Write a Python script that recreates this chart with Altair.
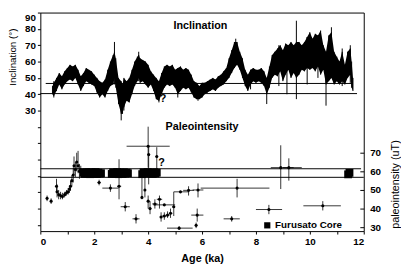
import altair as alt
import pandas as pd

# ---------------- data ----------------
incl_age = [0.45, 0.5, 0.6, 0.7, 0.8, 0.9, 1.0, 1.1, 1.2, 1.3,
            1.4, 1.5, 1.6, 1.7, 1.8, 1.9, 2.0, 2.1, 2.2, 2.3,
            2.4, 2.5, 2.6, 2.7, 2.75, 2.8, 2.9, 3.0, 3.05, 3.1,
            3.2, 3.3, 3.4, 3.5, 3.6, 3.65, 3.7, 3.8, 3.9, 4.0,
            4.1, 4.2, 4.3, 4.4, 4.5, 4.6, 4.7, 4.8, 4.9, 5.0,
            5.1, 5.2, 5.3, 5.4, 5.5, 5.6, 5.7, 5.8, 5.9, 6.0,
            6.1, 6.2, 6.3, 6.4, 6.5, 6.6, 6.7, 6.8, 6.9, 7.0,
            7.1, 7.2, 7.3, 7.4, 7.5, 7.6, 7.7, 7.8, 7.9, 8.0,
            8.1, 8.2, 8.3, 8.4, 8.5, 8.6, 8.7, 8.8, 8.9, 9.0,
            9.1, 9.2, 9.3, 9.4, 9.5, 9.6, 9.7, 9.8, 9.9, 10.0,
            10.1, 10.2, 10.3, 10.4, 10.5, 10.6, 10.7, 10.8, 10.9, 11.0,
            11.1, 11.2, 11.3, 11.4, 11.5, 11.55, 11.6]
incl_lo = [40, 39, 42, 46, 43, 46, 48, 49, 48, 50,
           46, 42, 45, 48, 47, 46, 45, 41, 38, 40,
           38, 42, 45, 46, 50, 44, 34, 28, 28, 32,
           36, 35, 40, 45, 48, 50, 47, 48, 46, 44,
           46, 42, 37, 36, 40, 44, 46, 45, 46, 44,
           40, 42, 44, 43, 44, 41, 38, 37, 37, 38,
           40, 41, 42, 43, 42, 44, 45, 46, 48, 50,
           53, 56, 58, 55, 50, 45, 42, 46, 48, 47,
           48, 47, 45, 40, 44, 50, 52, 51, 54, 48,
           52, 55, 50, 53, 50, 52, 55, 54, 56, 55,
           56, 54, 57, 52, 55, 46, 48, 50, 46, 48,
           46, 48, 46, 50, 52, 44, 42]
incl_hi = [45, 47, 50, 53, 51, 54, 56, 58, 57, 58,
           55, 51, 53, 56, 55, 54, 52, 50, 48, 47,
           49, 55, 60, 64, 66, 62, 50, 48, 46, 50,
           48, 50, 55, 60, 63, 64, 62, 61, 60, 58,
           54, 52, 50, 48, 53, 57, 58, 57, 58, 55,
           56, 57, 55, 56, 55, 52, 48, 47, 45, 47,
           47, 48, 49, 50, 49, 51, 52, 54, 56, 62,
           67, 72, 72, 66, 62, 55, 52, 55, 56, 55,
           55, 56, 54, 50, 57, 64, 66, 68, 70, 67,
           71, 70, 72, 70, 72, 72, 70, 72, 75, 78,
           74, 77, 76, 79, 70, 66, 76, 78, 66, 63,
           60, 66, 58, 66, 68, 60, 50]

# thin excursions of the inclination record
spike_age = [0.5, 2.75, 3.0, 3.1, 3.65, 4.4, 5.1, 5.85, 7.25, 7.8,
             8.4, 8.85, 9.15, 9.5, 9.9, 10.3, 10.6, 10.8, 11.2, 11.5]
spike_lo = [38, 46, 24, 30, 48, 35, 38, 36, 60, 43,
            34, 45, 40, 37, 46, 50, 33, 60, 45, 47]
spike_hi = [48, 72, 40, 45, 66, 45, 50, 44, 74, 50,
            46, 70, 70, 85, 75, 76, 50, 81, 68, 70]

# inclination reference lines
incl_ref_val = [46.6, 40.4]
incl_ref_x1 = [0.2, 0.0]
incl_ref_x2 = [11.6, 11.75]

# paleointensity determinations with error bars
pi_age = [0.25, 0.4, 0.6, 0.62, 0.68, 0.75, 0.82, 0.9, 0.97, 1.03,
          1.08, 1.12, 1.17, 1.22, 1.25, 1.3, 1.35, 1.4, 1.45, 1.5,
          2.18, 2.6, 2.92, 3.15, 3.55, 3.77, 3.88, 4.0, 4.02, 4.32,
          4.0, 4.07, 4.25, 4.42, 4.48, 4.6, 4.72, 4.83, 4.6, 4.95,
          5.2, 5.15, 5.5, 5.85, 5.82, 5.78, 7.3, 7.1, 8.48, 8.92,
          9.22, 10.48]
pi_val = [45.5, 44, 52, 49, 47.5, 47, 46.5, 47.5, 48.5, 49,
          50.5, 52, 55, 58, 63, 61, 65, 63, 60, 61,
          54, 51, 52, 41, 34.5, 46, 50, 73.5, 69, 68,
          44, 40, 42.5, 45, 35.5, 36, 36.5, 37.5, 42, 41,
          49, 29.5, 49.8, 50, 36.5, 31, 51, 34.5, 39.5, 62,
          62, 41.5]
pi_xlo = [0.25, 0.4, 0.6, 0.62, 0.68, 0.75, 0.82, 0.9, 0.97, 1.03,
          1.08, 1.12, 1.17, 1.22, 1.25, 1.3, 1.35, 1.4, 1.45, 1.5,
          2.12, 2.3, 2.85, 2.98, 3.42, 3.74, 3.85, 3.2, 3.98, 4.28,
          3.95, 4.02, 4.15, 4.32, 4.43, 4.52, 4.65, 4.77, 4.2, 4.9,
          4.95, 4.7, 5.3, 5.65, 5.6, 5.74, 5.95, 6.8, 8.0, 8.55,
          9.0, 9.76]
pi_xhi = [0.25, 0.4, 0.6, 0.62, 0.68, 0.75, 0.82, 0.9, 0.97, 1.03,
          1.08, 1.12, 1.17, 1.22, 1.25, 1.3, 1.35, 1.4, 1.45, 1.5,
          2.24, 2.9, 3.0, 3.32, 3.68, 3.8, 3.92, 4.8, 4.06, 4.36,
          4.05, 4.12, 4.35, 4.52, 4.53, 4.68, 4.8, 4.9, 5.0, 5.0,
          5.5, 5.65, 5.7, 6.05, 6.05, 5.82, 8.5, 7.4, 8.97, 9.4,
          9.7, 11.15]
pi_ylo = [44, 42.5, 49, 46, 45, 45, 45, 46, 47, 47.5,
          48.5, 49.5, 52, 54, 58, 57, 60, 59, 56, 58,
          52.5, 49, 45, 38.5, 32, 45, 46, 62, 53, 61,
          40, 37, 40, 40, 33, 34, 35, 35, 41.5, 36,
          48.5, 28.5, 47, 46, 33, 29.5, 46, 33, 37, 50.5,
          55, 39]
pi_yhi = [47, 45.5, 56, 53, 50, 49, 48.5, 49, 50, 51,
          52.5, 55, 58, 62, 68, 65, 70, 71, 64, 63,
          55.5, 53, 66.5, 43.5, 37, 57.5, 58, 84, 74, 73,
          47, 44, 45, 47, 38, 38, 38.5, 40, 42.5, 49,
          49.5, 30.5, 52, 53.5, 40, 32.5, 56, 36, 42, 74,
          67, 44]

# Furusato Core (black squares)
fc_age = [1.6, 1.65, 1.7, 1.75, 1.8, 1.85, 1.9, 1.95, 2.0, 2.05, 2.1, 2.15, 2.2, 2.25,
          2.65, 2.7, 2.75, 2.8, 2.85, 2.9, 2.95, 3.0, 3.05, 3.1, 3.15, 3.2, 3.25,
          3.78, 3.83, 3.88, 3.93, 3.98,
          4.12, 4.17, 4.22, 4.27, 4.32,
          11.42, 11.47]
fc_val = [59.2, 58.6, 59.6, 58.8, 59.4, 58.5, 59.5, 59.0, 58.7, 59.6, 58.6, 59.3, 58.8, 59.0,
          58.6, 59.5, 59.0, 58.8, 59.6, 58.5, 59.3, 59.0, 58.6, 59.5, 58.8, 59.3, 59.0,
          58.5, 59.5, 59.0, 58.8, 59.6,
          59.0, 58.6, 59.5, 58.8, 59.3,
          58.4, 59.2]

# paleointensity reference lines
pi_ref_val = [61.4, 56.8]
pi_ref_x1 = [0.0, 0.0]
pi_ref_x2 = [11.9, 12.0]

# annotations
incl_text = ["Inclination", "?"]
incl_text_age = [5.94, 4.55]
incl_text_val = [81.6, 37.0]
pi_text = ["Paleointensity", "?"]
pi_text_age = [6.0, 4.5]
pi_text_val = [83.8, 64.7]
legend_label = ["Furusato Core"]
legend_age = [8.42]
legend_val = [31.0]

x_ticks = [i / 2 for i in range(25)]
incl_ticks = [90, 80, 70, 60, 50, 40, 30, 20, 10, 0, -10, -20, -30, -40]
pi_ticks = [30, 40, 50, 60, 70]

FONT = "Liberation Sans"

# ---------------- scales & axes ----------------
xscale = alt.Scale(domain=[0, 12], nice=False, zero=False)
incl_scale = alt.Scale(domain=[-43.8, 90], nice=False, zero=False)
pi_scale = alt.Scale(domain=[27.9, 145.3], nice=False, zero=False)

xaxis = alt.Axis(values=x_ticks, format="d",
                 labelExpr="datum.value % 2 == 0 ? format(datum.value, 'd') : ''",
                 title="Age (ka)", titleFont=FONT, titleFontSize=11, titleFontWeight="bold",
                 titlePadding=6, labelFont=FONT, labelFontSize=10, labelFontWeight="bold",
                 labelPadding=3, tickSize=3, grid=False, domain=False, labelColor="black",
                 titleColor="black", tickColor="black")
incl_axis = alt.Axis(values=incl_ticks,
                     labelExpr="datum.value >= 30 ? datum.label : ''",
                     labelFlush=True, labelFlushOffset=0,
                     title="Inclination (°)", titleFont=FONT, titleFontSize=10,
                     titleFontWeight="normal", titleAngle=270, titleX=-28, titleY=45,
                     titleAlign="center", titleBaseline="middle",
                     labelFont=FONT, labelFontSize=10, labelFontWeight="bold",
                     labelPadding=2, tickSize=3, grid=False, domain=False,
                     labelColor="black", titleColor="black", tickColor="black")
pi_axis = alt.Axis(values=pi_ticks, orient="right", offset=-4,
                   title="paleointensity (uT)", titleFont=FONT, titleFontSize=11,
                   titleFontWeight="normal", titleAngle=270, titleX=36, titleY=175,
                   titleAlign="center", titleBaseline="middle",
                   labelFont=FONT, labelFontSize=10, labelFontWeight="bold",
                   labelPadding=6, tickSize=4, grid=False, domain=False,
                   labelColor="black", titleColor="black", tickColor="black")

# ---------------- inclination layers ----------------
incl_df = pd.DataFrame({"age": incl_age, "lo": incl_lo, "hi": incl_hi})
spike_df = pd.DataFrame({"age": spike_age, "lo": spike_lo, "hi": spike_hi})
incl_ref_df = pd.DataFrame({"v": incl_ref_val, "x1": incl_ref_x1, "x2": incl_ref_x2})
incl_text_df = pd.DataFrame({"t": incl_text, "age": incl_text_age, "v": incl_text_val})

X = lambda f: alt.X(f, scale=xscale, axis=xaxis)
YI = lambda f: alt.Y(f, scale=incl_scale, axis=incl_axis)
YP = lambda f: alt.Y(f, scale=pi_scale, axis=pi_axis)

band = alt.Chart(incl_df).mark_area(color="black", interpolate="linear").encode(
    x=X("age:Q"), y=YI("lo:Q"), y2="hi:Q")
band_edge = alt.Chart(incl_df).mark_rule(color="black", strokeWidth=1).encode(
    x=X("age:Q"), y=YI("lo:Q"), y2="hi:Q")
spikes = alt.Chart(spike_df).mark_rule(color="black", strokeWidth=1).encode(
    x=X("age:Q"), y=YI("lo:Q"), y2="hi:Q")
incl_ref = alt.Chart(incl_ref_df).mark_rule(color="black", strokeWidth=1).encode(
    x=X("x1:Q"), x2="x2:Q", y=YI("v:Q"))
incl_txt = alt.Chart(incl_text_df).mark_text(font=FONT, fontSize=11, fontWeight="bold",
                                             color="black").encode(
    x=X("age:Q"), y=YI("v:Q"), text="t:N")

incl_layer = alt.layer(band, band_edge, spikes, incl_ref, incl_txt)

# ---------------- paleointensity layers ----------------
pi_df = pd.DataFrame({"age": pi_age, "v": pi_val, "xlo": pi_xlo, "xhi": pi_xhi,
                      "ylo": pi_ylo, "yhi": pi_yhi})
fc_df = pd.DataFrame({"age": fc_age, "v": fc_val})
pi_ref_df = pd.DataFrame({"v": pi_ref_val, "x1": pi_ref_x1, "x2": pi_ref_x2})
pi_text_df = pd.DataFrame({"t": pi_text, "age": pi_text_age, "v": pi_text_val})
leg_df = pd.DataFrame({"t": legend_label, "age": legend_age, "v": legend_val})

pi_ref = alt.Chart(pi_ref_df).mark_rule(color="black", strokeWidth=1).encode(
    x=X("x1:Q"), x2="x2:Q", y=YP("v:Q"))
xerr = alt.Chart(pi_df).mark_rule(color="black", strokeWidth=0.8).encode(
    x=X("xlo:Q"), x2="xhi:Q", y=YP("v:Q"))
yerr = alt.Chart(pi_df).mark_rule(color="black", strokeWidth=0.8).encode(
    x=X("age:Q"), y=YP("ylo:Q"), y2="yhi:Q")
pts = alt.Chart(pi_df).mark_point(filled=True, color="black", size=10, opacity=1).encode(
    x=X("age:Q"), y=YP("v:Q"))
fc = alt.Chart(fc_df).mark_square(color="black", size=64, opacity=1, filled=True).encode(
    x=X("age:Q"), y=YP("v:Q"))
pi_txt = alt.Chart(pi_text_df).mark_text(font=FONT, fontSize=11, fontWeight="bold",
                                         color="black").encode(
    x=X("age:Q"), y=YP("v:Q"), text="t:N")
leg_sq = alt.Chart(leg_df).mark_square(color="black", size=40, opacity=1, filled=True).encode(
    x=X("age:Q"), y=YP("v:Q"))
leg_txt = alt.Chart(leg_df).mark_text(font=FONT, fontSize=10, fontWeight="bold",
                                      color="black", align="left", dx=8).encode(
    x=X("age:Q"), y=YP("v:Q"), text="t:N")

pi_layer = alt.layer(pi_ref, xerr, yerr, pts, fc, pi_txt, leg_sq, leg_txt)

chart = alt.layer(incl_layer, pi_layer).resolve_scale(y="independent").properties(
    width=330, height=223,
    autosize=alt.AutoSizeParams(type="none"),
    padding={"left": 33, "top": 2, "right": 38, "bottom": 36},
    background="white",
).configure_view(stroke="black", strokeWidth=1)

chart.save("out.html", embed_options={"renderer": "svg", "actions": False})
